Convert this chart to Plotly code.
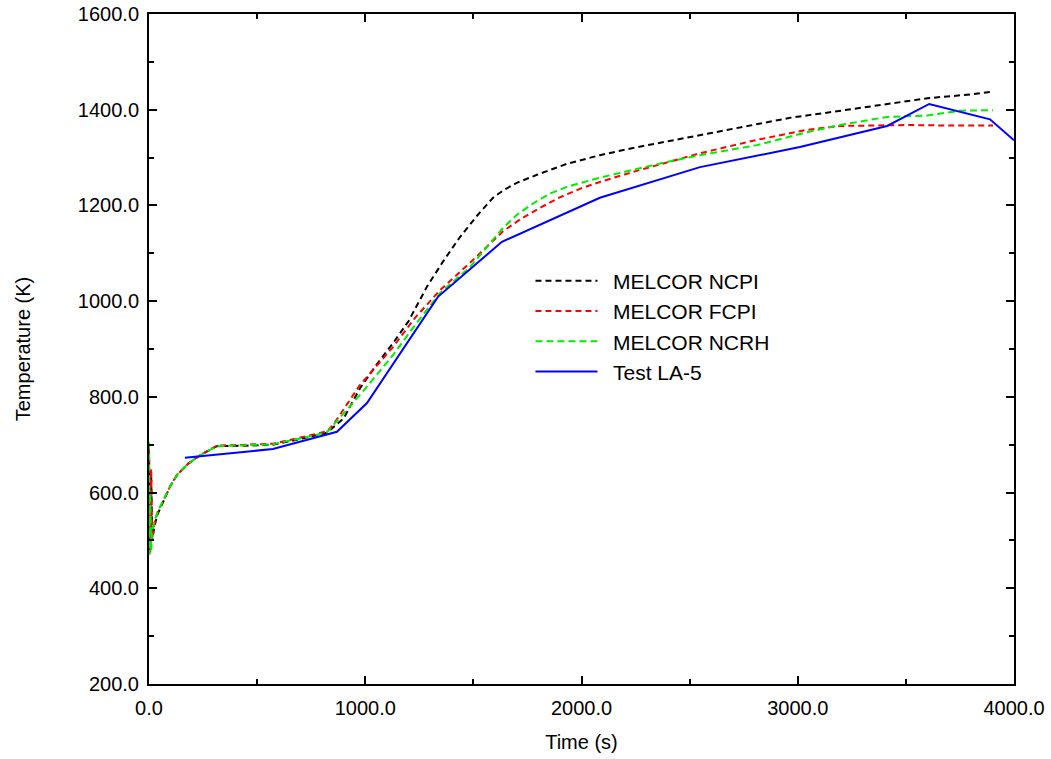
import plotly.graph_objects as go

# ---- data ----
t_ncpi = [0, 3, 6, 10, 15, 25, 40, 65, 100, 130, 180, 236, 314, 450, 573, 700, 823, 900, 976, 1050,
          1128, 1200, 1285, 1360, 1438, 1520, 1591, 1640, 1700, 1794, 1933, 2085, 2238, 2400, 2548, 2750,
          2964, 3200, 3413, 3600, 3800, 3903]
T_ncpi = [690, 600, 480, 640, 500, 530, 555, 580, 615, 637, 660, 678, 697, 698, 700, 712, 725, 755, 818, 866,
          912, 958, 1030, 1083, 1134, 1180, 1216, 1232, 1247, 1264, 1287, 1305, 1320, 1334, 1347, 1365,
          1383, 1398, 1412, 1424, 1432, 1438]

t_fcpi = [0, 3, 6, 10, 15, 25, 40, 65, 100, 130, 180, 236, 314, 450, 573, 700, 823, 851, 976, 1128, 1230,
          1346, 1484, 1637, 1720, 1808, 1900, 2000, 2085, 2238, 2395, 2548, 2811, 3043, 3195, 3300, 3500,
          3700, 3903]
T_fcpi = [695, 590, 475, 650, 505, 535, 558, 582, 615, 637, 660, 678, 698, 700, 702, 715, 728, 741, 825, 904, 965,
          1023, 1080, 1146, 1172, 1195, 1217, 1236, 1249, 1270, 1289, 1309, 1337, 1358, 1366, 1367, 1368,
          1367, 1367]

t_ncrh = [0, 3, 6, 10, 15, 25, 40, 65, 100, 130, 180, 236, 314, 450, 573, 700, 823, 976, 1128, 1230,
          1346, 1484, 1637, 1700, 1776, 1850, 1933, 2085, 2238, 2395, 2548, 2811, 3043, 3195, 3413, 3600,
          3750, 3903]
T_ncrh = [705, 470, 600, 480, 520, 540, 560, 582, 615, 637, 660, 678, 697, 699, 701, 713, 726, 804, 887, 950,
          1017, 1071, 1153, 1180, 1204, 1224, 1239, 1258, 1274, 1291, 1305, 1326, 1353, 1368, 1385, 1388,
          1398, 1399]

t_test = [166, 573, 869, 1008, 1336, 1632, 2085, 2548, 3010, 3413, 3608, 3889, 4000]
T_test = [673, 691, 727, 787, 1009, 1124, 1216, 1280, 1322, 1366, 1412, 1380, 1336]

names = ["MELCOR NCPI", "MELCOR FCPI", "MELCOR NCRH", "Test LA-5"]

FONT = "Liberation Sans, Arial, sans-serif"
PAD = "\u2002"

fig = go.Figure()
fig.add_trace(go.Scatter(x=t_ncpi, y=T_ncpi, mode="lines", name=PAD + names[0],
                         line=dict(color="black", width=2, dash="6px,4px")))
fig.add_trace(go.Scatter(x=t_fcpi, y=T_fcpi, mode="lines", name=PAD + names[1],
                         line=dict(color="red", width=2, dash="6px,4px")))
fig.add_trace(go.Scatter(x=t_ncrh, y=T_ncrh, mode="lines", name=PAD + names[2],
                         line=dict(color="#00ee00", width=2, dash="7px,4px")))
fig.add_trace(go.Scatter(x=t_test, y=T_test, mode="lines", name=PAD + names[3],
                         line=dict(color="#0000ff", width=2)))

axis_common = dict(
    showline=True, linecolor="black", linewidth=2, mirror="allticks",
    ticks="inside", ticklen=8, tickwidth=1.5, tickcolor="black",
    showgrid=False, zeroline=False, tickformat=".1f", automargin=False,
    tickfont=dict(family=FONT, size=20, color="black"),
)

fig.update_xaxes(range=[0, 4000], dtick=1000, tick0=0, ticklabelstandoff=5,
                 minor=dict(ticks="inside", ticklen=5, dtick=500, tickcolor="black", tickwidth=1.5),
                 title=dict(text="Time (s)", font=dict(family=FONT, size=20, color="black"), standoff=17),
                 **axis_common)
fig.update_yaxes(range=[200, 1600], dtick=200, tick0=200, ticklabelstandoff=4,
                 minor=dict(ticks="inside", ticklen=5, dtick=100, tickcolor="black", tickwidth=1.5),
                 title=dict(text="Temperature (K)", font=dict(family=FONT, size=20, color="black"), standoff=42),
                 **axis_common)

fig.update_layout(
    width=1051, height=759,
    margin=dict(l=149, r=37, t=14, b=75),
    paper_bgcolor="white", plot_bgcolor="white",
    font=dict(family=FONT, size=20, color="black"),
    legend=dict(x=0.441, y=0.632, xanchor="left", yanchor="top",
                bgcolor="rgba(0,0,0,0)", itemwidth=62,
                font=dict(family=FONT, size=21, color="black")),
    showlegend=True,
)

fig.write_html("out.html")
